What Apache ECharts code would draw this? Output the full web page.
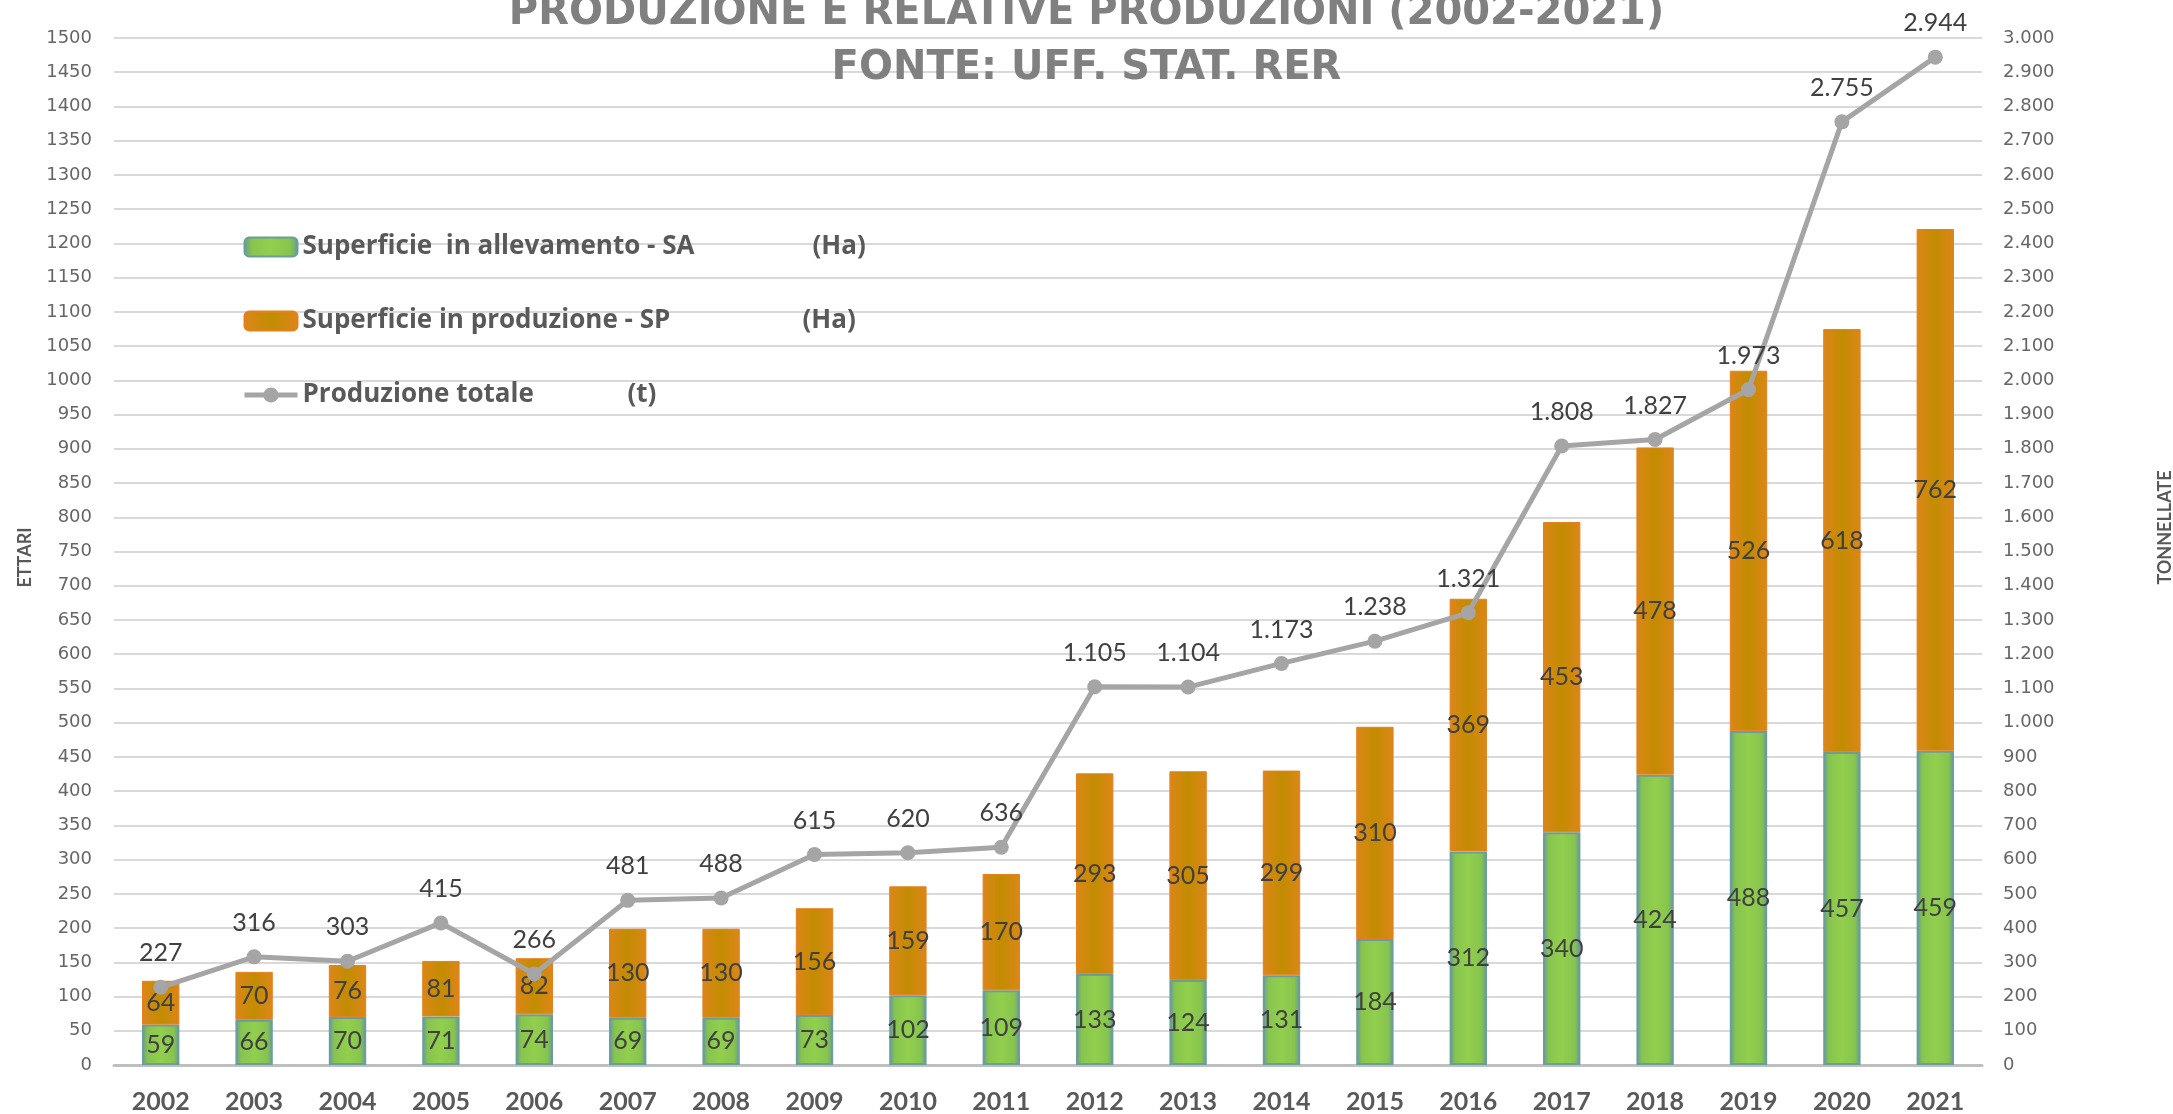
<!DOCTYPE html>
<html>
<head>
<meta charset="utf-8">
<script src="https://cdn.jsdelivr.net/npm/echarts@6/dist/echarts.min.js"></script>
<style>
  html, body { margin: 0; padding: 0; background: #fff; }
  #chart { width: 2173px; height: 1114px; }
</style>
</head>
<body>
<div id="chart"></div>
<script>
// dati
const anni = ['2002', '2003', '2004', '2005', '2006', '2007', '2008', '2009', '2010', '2011',
  '2012', '2013', '2014', '2015', '2016', '2017', '2018', '2019', '2020', '2021']
const superficieAllevamento = [59, 66, 70, 71, 74, 69, 69, 73, 102, 109, 133, 124, 131, 184, 312, 340, 424, 488, 457, 459]
const superficieProduzione = [64, 70, 76, 81, 82, 130, 130, 156, 159, 170, 293, 305, 299, 310, 369, 453, 478, 526, 618, 762]
const produzioneTotale = [227, 316, 303, 415, 266, 481, 488, 615, 620, 636, 1105, 1104, 1173, 1238, 1321, 1808, 1827, 1973, 2755, 2944]

const nomeSA = 'Superficie  in allevamento - SA'
const nomeSP = 'Superficie in produzione - SP'
const nomeProd = 'Produzione totale'

// separatore migliaia all'italiana
function fmt (v) {
  return String(v).replace(/\B(?=(\d{3})+(?!\d))/g, '.')
}

let myChart = echarts.init(document.getElementById('chart'))

const legendText = { fontFamily: 'Open Sans', fontWeight: 'bold', fontSize: 26, color: '#595959' }

let option = {
  backgroundColor: '#ffffff',
  animation: false,
  title: {
    text: 'PRODUZIONE E RELATIVE PRODUZIONI (2002-2021)\nFONTE: UFF. STAT. RER',
    left: 'center',
    top: -19,
    textStyle: {
      fontFamily: 'DejaVu Sans',
      fontWeight: 'bold',
      fontSize: 40,
      lineHeight: 55,
      color: '#808080'
    }
  },
  legend: {
    orient: 'vertical',
    left: 237,
    top: 229,
    itemWidth: 53,
    itemHeight: 19,
    itemGap: 48,
    lineStyle: { width: 5 },
    data: [
      nomeSA,
      nomeSP,
      { name: nomeProd, itemStyle: { color: '#a5a5a5' }, lineStyle: { width: 5, color: '#a5a5a5' } }
    ],
    formatter: function (name) {
      if (name === nomeSA) return '{a|' + name + '}{u|(Ha)}'
      if (name === nomeSP) return '{b|' + name + '}{u|(Ha)}'
      return '{c|' + name + '}{u|(t)}'
    },
    textStyle: Object.assign({}, legendText, {
      rich: {
        a: Object.assign({ width: 510 }, legendText),
        b: Object.assign({ width: 500 }, legendText),
        c: Object.assign({ width: 325 }, legendText),
        u: legendText
      }
    })
  },
  grid: {
    left: 114,
    right: 191,
    top: 38,
    bottom: 49,
    outerBoundsMode: 'none'
  },
  xAxis: {
    type: 'category',
    data: anni,
    axisTick: { show: false },
    axisLine: { lineStyle: { color: '#bfbfbf', width: 3 } },
    axisLabel: {
      margin: 24,
      fontFamily: 'Lato',
      fontWeight: 'bold',
      fontSize: 25,
      color: '#595959'
    }
  },
  yAxis: [
    {
      type: 'value',
      name: 'ETTARI',
      nameLocation: 'middle',
      nameGap: 80,
      nameTextStyle: { fontFamily: 'Lato', fontWeight: 'bold', fontSize: 18, color: '#595959', padding: [0, 12, 0, 0] },
      min: 0,
      max: 1500,
      interval: 50,
      axisLine: { show: false },
      axisTick: { show: false },
      axisLabel: {
        margin: 22,
        fontFamily: 'DejaVu Sans',
        fontSize: 18,
        color: '#666666',
        formatter: function (v) { return String(v) }
      },
      splitLine: { lineStyle: { color: '#d9d9d9', width: 2 } }
    },
    {
      type: 'value',
      name: 'TONNELLATE',
      nameLocation: 'middle',
      nameGap: 174,
      nameTextStyle: { fontFamily: 'Lato', fontWeight: 'bold', fontSize: 18, color: '#595959', padding: [0, 0, 0, 48] },
      min: 0,
      max: 3000,
      interval: 100,
      axisLine: { show: false },
      axisTick: { show: false },
      axisLabel: {
        margin: 21,
        fontFamily: 'DejaVu Sans',
        fontSize: 18,
        color: '#666666',
        formatter: function (v) { return fmt(v) }
      },
      splitLine: { show: false }
    }
  ],
  series: [
    {
      name: nomeSA,
      type: 'bar',
      stack: 'ettari',
      barWidth: '40%',
      data: superficieAllevamento,
      itemStyle: {
        color: {
          type: 'linear', x: 0, y: 0, x2: 1, y2: 0,
          colorStops: [
            { offset: 0, color: '#64979a' },
            { offset: 0.15, color: '#86c44f' },
            { offset: 0.5, color: '#92cf4d' },
            { offset: 0.85, color: '#86c44f' },
            { offset: 1, color: '#64979a' }
          ]
        },
        borderColor: '#6b9c9f',
        borderWidth: 2
      },
      label: {
        show: true,
        position: 'inside',
        fontFamily: 'Lato',
        fontSize: 25,
        color: '#404040'
      }
    },
    {
      name: nomeSP,
      type: 'bar',
      stack: 'ettari',
      barWidth: '40%',
      data: superficieProduzione,
      itemStyle: {
        color: {
          type: 'linear', x: 0, y: 0, x2: 1, y2: 0,
          colorStops: [
            { offset: 0, color: '#dc8619' },
            { offset: 0.5, color: '#c28c00' },
            { offset: 1, color: '#dc8619' }
          ]
        },
        borderColor: '#e5801f',
        borderWidth: 1
      },
      label: {
        show: true,
        position: 'inside',
        fontFamily: 'Lato',
        fontSize: 25,
        color: '#404040'
      }
    },
    {
      name: nomeProd,
      type: 'line',
      yAxisIndex: 1,
      data: produzioneTotale,
      z: 5,
      symbol: 'circle',
      symbolSize: 15,
      lineStyle: { color: '#a5a5a5', width: 5 },
      itemStyle: { color: '#a5a5a5' },
      label: {
        show: true,
        position: 'top',
        distance: 14,
        fontFamily: 'Lato',
        fontSize: 25,
        color: '#404040',
        formatter: function (p) { return fmt(p.value) }
      }
    }
  ]
}

myChart.setOption(option)
</script>
</body>
</html>
